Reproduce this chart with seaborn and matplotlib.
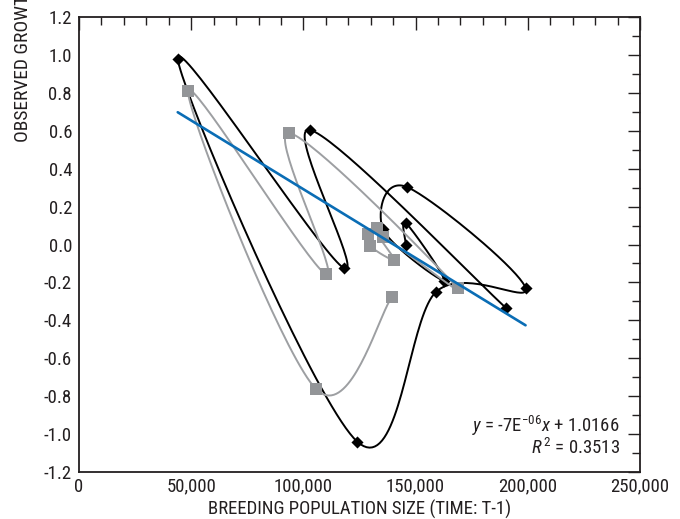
import numpy as np
import pandas as pd
import matplotlib
matplotlib.use("Agg")
import matplotlib.pyplot as plt
from matplotlib import font_manager
import seaborn as sns
from matplotlib.ticker import MultipleLocator, FuncFormatter

# ---------------- data ----------------
black_x = [145700, 145700, 162600, 135400, 146200, 199000, 159100, 124000, 44000, 118000, 103000, 190300]
black_y = [-0.003, 0.113, -0.19, 0.082, 0.303, -0.23, -0.25, -1.04, 0.98, -0.124, 0.604, -0.335]

gray_x = [139500, 105600, 48570, 110000, 93580, 168800, 135400, 140400, 129700, 128800, 132800]
gray_y = [-0.277, -0.762, 0.81, -0.156, 0.588, -0.23, 0.04, -0.08, -0.008, 0.055, 0.087]

trend_slope = -7.25e-06
trend_intercept = 1.0166
eq_text = r"$\it{y}$ = -7E$^{-06}$$\it{x}$ + 1.0166"
r2_text = r"$\it{R}^{\,2}$ = 0.3513"

x_label = "BREEDING POPULATION SIZE (TIME: T-1)"
y_label = "OBSERVED GROWTH RATE"

XMIN, XMAX = 0, 250000
YMIN, YMAX = -1.2, 1.2

# ---------------- style ----------------
sns.set_style("white")
available = {f.name for f in font_manager.fontManager.ttflist}
condensed_files = [f for f in font_manager.fontManager.ttflist
                   if f.name == "DejaVu Sans" and "condensed" in str(f.stretch).lower()]
FONT_NAME = None
for cand in ["Liberation Sans Narrow", "Roboto Condensed", "Arial Narrow",
             "Open Sans Condensed", "Noto Sans Condensed", "DejaVu Sans Condensed"]:
    if cand in available:
        FONT_NAME = cand
        break
if FONT_NAME is None:
    FONT_NAME = "DejaVu Sans"
    if condensed_files:
        plt.rcParams["font.stretch"] = "condensed"
plt.rcParams["font.family"] = [FONT_NAME, "DejaVu Sans"]
plt.rcParams["mathtext.fontset"] = "custom"
plt.rcParams["mathtext.rm"] = FONT_NAME
plt.rcParams["mathtext.it"] = FONT_NAME + ":italic"
TXT = "#231f20"
FS = 13.5

fig = plt.figure(figsize=(6.8, 5.19), dpi=100)
ax = fig.add_axes([79 / 680, 47 / 519, (640 - 79) / 680, (472 - 17) / 519])

AXW, AXH = 561.0, 455.0


def smooth(xs, ys, n=40):
    """Excel-like smoothed line (Catmull-Rom / Bezier) computed in screen space."""
    px = np.asarray(xs, float) / (XMAX - XMIN) * AXW
    py = (np.asarray(ys, float) - YMIN) / (YMAX - YMIN) * AXH
    P = np.column_stack([px, py])
    P = np.vstack([P[0], P, P[-1]])
    out = []
    t = np.linspace(0, 1, n)[:, None]
    for i in range(1, len(P) - 2):
        p0, p1, p2, p3 = P[i - 1], P[i], P[i + 1], P[i + 2]
        c1 = p1 + (p2 - p0) / 6.0
        c2 = p2 - (p3 - p1) / 6.0
        seg = ((1 - t) ** 3) * p1 + 3 * ((1 - t) ** 2) * t * c1 + 3 * (1 - t) * t ** 2 * c2 + t ** 3 * p2
        out.append(seg if i == 1 else seg[1:])
    S = np.vstack(out)
    return S[:, 0] / AXW * (XMAX - XMIN), S[:, 1] / AXH * (YMAX - YMIN) + YMIN


bsx, bsy = smooth(black_x, black_y)
gsx, gsy = smooth(gray_x, gray_y)

BLACK = "#000000"
GRAY_LINE = "#9d9fa2"
GRAY_MK = "#939598"
BLUE = "#0a6db5"

sns.lineplot(x=bsx, y=bsy, sort=False, estimator=None, color=BLACK, lw=1.4, ax=ax, zorder=2)
sns.scatterplot(x=black_x, y=black_y, marker="D", s=38, color=BLACK, edgecolor=BLACK, linewidth=0, ax=ax, zorder=3)

sns.lineplot(x=gsx, y=gsy, sort=False, estimator=None, color=GRAY_LINE, lw=1.4, ax=ax, zorder=4)
sns.scatterplot(x=gray_x, y=gray_y, marker="s", s=70, color=GRAY_MK, edgecolor=GRAY_MK, linewidth=0, ax=ax, zorder=5)

all_x = np.array(black_x + gray_x)
tx = np.array([all_x.min(), all_x.max()])
ty = trend_slope * tx + trend_intercept
sns.lineplot(x=tx, y=ty, color=BLUE, lw=1.9, ax=ax, zorder=6)

ax.set_xlim(XMIN, XMAX)
ax.set_ylim(YMIN, YMAX)
ax.xaxis.set_major_locator(MultipleLocator(50000))
ax.xaxis.set_minor_locator(MultipleLocator(10000))
ax.yaxis.set_major_locator(MultipleLocator(0.2))
ax.yaxis.set_minor_locator(MultipleLocator(0.1))
ax.xaxis.set_major_formatter(FuncFormatter(lambda v, p: f"{int(round(v)):,}"))
ax.yaxis.set_major_formatter(FuncFormatter(lambda v, p: f"{v:.1f}".replace("-0.0", "0.0")))

ax.tick_params(which="both", direction="in", top=True, right=True, color=TXT, width=1.0,
               labelsize=FS, labelcolor=TXT)
ax.tick_params(which="major", length=9)
ax.tick_params(which="minor", length=5.5)
ax.tick_params(axis="y", which="major", pad=5)
ax.tick_params(axis="x", which="major", pad=4)
for s in ax.spines.values():
    s.set_color(TXT)
    s.set_linewidth(1.3)

ax.set_xlabel(x_label, fontsize=FS, color=TXT, labelpad=3)
ax.set_ylabel("")
fig.text(23 / 680, 1 - 142 / 519, y_label, rotation=90, ha="center", va="bottom",
         fontsize=FS + 0.5, color=TXT)

ax.text(0.964, 0.088, eq_text, transform=ax.transAxes, ha="right", va="baseline",
        fontsize=13.5, color=TXT)
ax.text(0.964, 0.040, r2_text, transform=ax.transAxes, ha="right", va="baseline",
        fontsize=13.5, color=TXT)

fig.savefig("out.png", dpi=100)
